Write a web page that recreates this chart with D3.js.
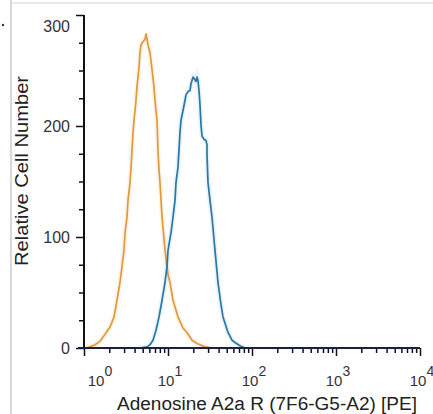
<!DOCTYPE html>
<html>
<head>
<meta charset="utf-8">
<script src="https://cdn.jsdelivr.net/npm/d3@7"></script>
<style>
  body { margin:0; background:#fff; }
  svg { display:block; font-family:"Liberation Sans", Arial, sans-serif; }
</style>
</head>
<body>
<svg id="chart" width="433" height="414"></svg>
<script>
// orange: control / isotype, blue: stained sample
const orangeX = [1.06,1.18,1.35,1.55,1.73,2.04,2.28,2.47,2.68,2.83,2.99,3.08,3.25,3.34,3.53,3.63,3.73,3.83,3.94,4.16,4.27,4.52,4.64,4.77,5.04,5.32,5.47,5.62,5.78,6.11,6.45,6.81,7.0,7.4,7.6,7.82,8.03,8.49,9.21,10,10.57,11.47,13.15,15.09,16.83,19.31,22.14,27.56,33.4];
const orangeY = [0,1,3,6,11,19,28,43,59,73,88,104,118,133,149,163,178,194,205,223,235,253,266,273,276,278,283,279,273,266,251,235,223,205,178,160,149,118,88,66,59,43,28,18,14,7,4,1,0];
const blueX = [4.64,5.62,6.11,6.63,7.2,7.82,8.49,9.21,9.73,10,10.86,11.47,12.12,12.45,13.15,13.51,13.89,14.28,15.09,15.93,16.38,17.3,18.28,18.79,19.85,20.41,21.54,22.14,22.76,23.39,24.04,24.71,25.4,26.83,28.34,29.13,29.13,29.94,31.62,33.4,36.27,39.37,42.75,45.16,51.8,57.8,62.8,71.9,82.5];
const blueY = [0,1,3,7,16,28,43,59,73,88,104,118,133,149,163,178,194,205,214,223,228,231,232,238,244,243,240,244,241,232,219,201,191,188,187,183,174,149,133,118,88,59,39,28,14,7,5,2,0];
const yTicks = [0,100,200,300];
const yMinor = [25,50,75,125,150,175,225,250,275];
const xDecades = [0,1,2,3,4];
const xTitle = "Adenosine A2a R (7F6-G5-A2) [PE]";
const yTitle = "Relative Cell Number";

const svg = d3.select('#chart');
const margin = {left:84, right:13, top:15, bottom:66};
const W = 433, H = 414;

const x = d3.scaleLog().domain([1,1e4]).range([margin.left, W-margin.right]);
const y = d3.scaleLinear().domain([0,300]).range([H-margin.bottom, margin.top]);

// faint frame of the screenshot
svg.append('line').attr('x1',11).attr('x2',11).attr('y1',0).attr('y2',H)
    .attr('stroke','#d9d9d9').attr('stroke-width',2);
svg.append('line').attr('x1',11).attr('x2',W).attr('y1',3).attr('y2',3)
    .attr('stroke','#e2e2e2').attr('stroke-width',1.5);
svg.append('circle').attr('cx',3).attr('cy',25).attr('r',1.2).attr('fill','#333');

// curves
const line = d3.line().x(d => x(d[0])).y(d => y(d[1]));
const series = [
    {xs:orangeX, ys:orangeY, color:'#de9a3e', halo:'#fbecd6'},
    {xs:blueX, ys:blueY, color:'#2a76a6', halo:'#d9edf7'}
];
series.forEach(s => {
    const pts = s.xs.map((v,i) => [v, s.ys[i]]);
    svg.append('path').datum(pts).attr('d',line)
        .attr('fill','none').attr('stroke',s.halo).attr('stroke-width',5).attr('opacity',0.6);
});
series.forEach(s => {
    const pts = s.xs.map((v,i) => [v, s.ys[i]]);
    svg.append('path').datum(pts).attr('d',line)
        .attr('fill','none').attr('stroke',s.color).attr('stroke-width',1.7)
        .attr('stroke-linejoin','round');
});

// y axis: minor and major ticks in their own groups
const gyMinor = svg.append('g').attr('transform',`translate(${margin.left},0)`)
    .call(d3.axisLeft(y).tickValues(yMinor).tickSize(5).tickFormat(''));
const gy = svg.append('g').attr('transform',`translate(${margin.left},0)`)
    .call(d3.axisLeft(y).tickValues(yTicks).tickSize(8).tickPadding(6));
[gyMinor, gy].forEach(g => {
    g.selectAll('.domain').remove();
    g.selectAll('.tick line').attr('stroke','#111').attr('stroke-width',1.5);
});
gy.append('line').attr('x1',0).attr('x2',0).attr('y1',y(300)).attr('y2',y(0))
    .attr('stroke','#111').attr('stroke-width',2);
gy.selectAll('.tick text').attr('font-size',16).attr('fill','#333')
    .attr('font-family','"Liberation Sans", Arial, sans-serif').attr('dy','0.32em');
gy.selectAll('.tick').filter(d => d===300).select('text').attr('dy','1.0em');

// x axis
const minor = [];
xDecades.slice(0,-1).forEach(e => { for (let k=2;k<10;k++) minor.push(k*Math.pow(10,e)); });
const gxMinor = svg.append('g').attr('transform',`translate(0,${y(0)})`)
    .call(d3.axisBottom(x).tickValues(minor).tickSize(5).tickFormat(''));
const gx = svg.append('g').attr('transform',`translate(0,${y(0)})`)
    .call(d3.axisBottom(x).tickValues(xDecades.map(e => Math.pow(10,e))).tickSize(8).tickFormat(''));
[gxMinor, gx].forEach(g => {
    g.selectAll('.domain').remove();
    g.selectAll('.tick line').attr('stroke','#111').attr('stroke-width',1.5);
});
gx.append('line').attr('x1',margin.left-6).attr('x2',x(1e4)).attr('y1',0).attr('y2',0)
    .attr('stroke','#1a2040').attr('stroke-width',2);

const lab = svg.append('g').attr('font-size',15).attr('fill','#333');
xDecades.forEach(e => {
    const px = x(Math.pow(10,e)) + (e===0 ? 16 : 2);
    const t = lab.append('text').attr('x',px).attr('y',386).attr('text-anchor','middle');
    t.append('tspan').text('10');
    t.append('tspan').attr('dy',-10).attr('font-size',14).text(String(e));
});

svg.append('text').attr('x',267).attr('y',410).attr('text-anchor','middle')
    .attr('font-size',18).attr('fill','#222')
    .attr('textLength',300).attr('lengthAdjust','spacingAndGlyphs').text(xTitle);
svg.append('text').attr('transform',`translate(28,${171}) rotate(-90)`)
    .attr('text-anchor','middle').attr('font-size',18).attr('fill','#222')
    .attr('textLength',190).attr('lengthAdjust','spacingAndGlyphs').text(yTitle);
</script>
</body>
</html>
